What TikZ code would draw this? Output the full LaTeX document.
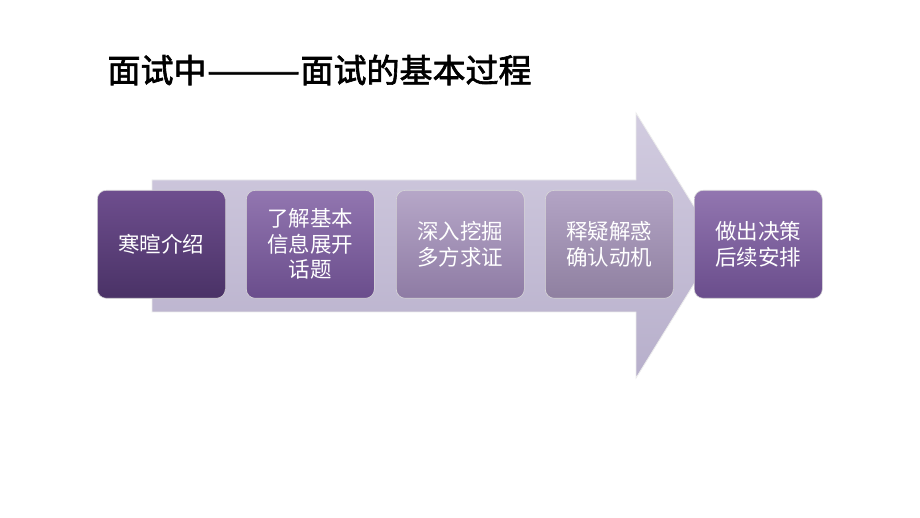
\documentclass[tikz,border=0pt]{standalone}
\usepackage{fontspec}
\setmainfont{Noto Sans CJK SC}
\newfontfamily\cjkb[FakeBold=2]{Noto Sans CJK SC}
\definecolor{a1}{HTML}{6E4E8E}\definecolor{b1}{HTML}{4A3266}
\definecolor{a2}{HTML}{9276B0}\definecolor{b2}{HTML}{6A4D8C}
\definecolor{a3}{HTML}{B6A7C8}\definecolor{b3}{HTML}{8E7BA4}
\definecolor{a4}{HTML}{B3A4C5}\definecolor{b4}{HTML}{8F80A0}
\definecolor{ar1}{HTML}{D2CCE0}\definecolor{ar2}{HTML}{B7AFCB}
\begin{document}
\begin{tikzpicture}[x=1pt,y=-1pt,
  stepbox/.style={rounded corners=9pt,minimum width=128pt,minimum height=108pt,anchor=north west,text=white,font=\fontsize{21.5}{25.5}\selectfont,align=center,inner sep=2pt,draw=white!85!black,line width=0.6pt}]
\useasboundingbox (0,0) rectangle (920,518);
\fill[white] (0,0) rectangle (920,518);
\node[anchor=west,font=\cjkb\fontsize{33}{38}\selectfont] (title) at (104,70) {面试中\scalebox{1.7}[1]{——}面试的基本过程};
\path[top color=ar1, bottom color=ar2, draw=white!85!gray, line width=0.8pt]
  (152,180) -- (636,180) -- (636,113) -- (718,245) -- (636,378) -- (636,312) -- (152,312) -- cycle;
\node[stepbox,top color=a1,bottom color=b1] (s1) at (97,190) {寒暄介绍};
\node[stepbox,top color=a2,bottom color=b2] (s2) at (246,190) {了解基本\\信息展开\\话题};
\node[stepbox,top color=a3,bottom color=b3] (s3) at (396,190) {深入挖掘\\多方求证};
\node[stepbox,top color=a4,bottom color=b4] (s4) at (545,190) {释疑解惑\\确认动机};
\node[stepbox,top color=a2,bottom color=b2] (s5) at (694,190) {做出决策\\后续安排};
\end{tikzpicture}
\end{document}
